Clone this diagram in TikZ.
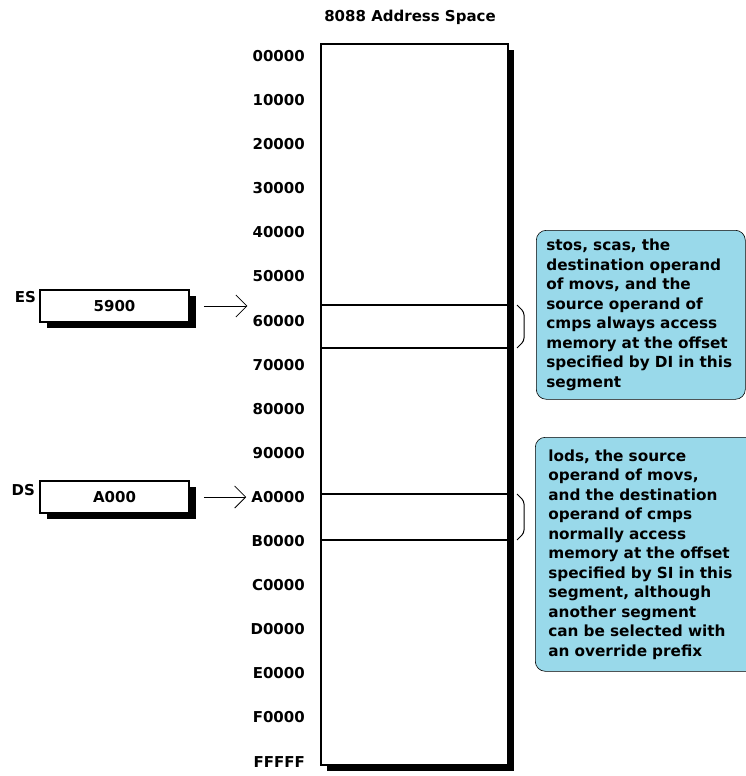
\documentclass[tikz,border=0pt]{standalone}
\usepackage{fontspec}
\setmainfont{DejaVu Sans}
\usetikzlibrary{arrows.meta,positioning,shadows}
\definecolor{notefill}{RGB}{153,217,234}

\begin{document}
\begin{tikzpicture}[x=1pt,y=-1pt,font=\fontsize{15}{19.5}\selectfont\bfseries,
  mem/.style={draw,line width=1.6pt,fill=white,minimum width=187pt,minimum height=721pt,
    drop shadow={fill=black,opacity=1,shadow xshift=6pt,shadow yshift=-6pt}},
  reg/.style={draw,line width=1.6pt,fill=white,minimum width=149pt,minimum height=32pt,
    drop shadow={fill=black,opacity=1,shadow xshift=7pt,shadow yshift=-6pt}},
  addr/.style={anchor=east,inner sep=0pt},
  rname/.style={anchor=north east,inner sep=0pt},
  note/.style={draw,line width=0.6pt,rounded corners=10pt,fill=notefill,anchor=north west,
    font=\fontsize{15.3}{19.5}\selectfont\bfseries,align=left},
  ptr/.style={-{Straight Barb[length=11pt,width=22pt]},line width=0.8pt},
  seg/.style={line width=1.6pt},
  brk/.style={line width=1pt,rounded corners=3pt}]
  \useasboundingbox (0,0) rectangle (746,776);
  \node (title) at (410,17) {8088 Address Space};
  \node[mem] (mem) at (414.5,404.5) {};
  \foreach \a [count=\i from 0] in {00000,10000,20000,30000,40000,50000,60000,70000,80000,
    90000,A0000,B0000,C0000,D0000,E0000,F0000,FFFFF}
    \node[addr] (a\i) at (305,56+44.1*\i) {\a};
  % segment registers
  \node[reg] (es) at (114.5,306) {5900};
  \node[reg] (ds) at (114.5,497) {A000};
  \node[rname] (esl) at ([xshift=-3pt,yshift=-2pt]es.north west) {ES};
  \node[rname] (dsl) at ([xshift=-4pt,yshift=-4pt]ds.north west) {DS};
  \draw[ptr] ([xshift=14pt]es.east) -- ([xshift=-5pt]a6.west |- es.east);
  \draw[ptr] ([xshift=14pt]ds.east) -- ([xshift=-5pt]a10.west |- ds.east);
  % segment bounds
  \coordinate (esA) at (517,305); \coordinate (esB) at (517,348);
  \coordinate (dsA) at (517,494); \coordinate (dsB) at (517,540);
  \draw[seg] (mem.west |- esA) -- (mem.east |- esA);
  \draw[seg] (mem.west |- esB) -- (mem.east |- esB);
  \draw[seg] (mem.west |- dsA) -- (mem.east |- dsA);
  \draw[seg] (mem.west |- dsB) -- (mem.east |- dsB);
  \draw[brk] (esA) -- ++(7,7) -- ++(0,29) -- (esB);
  \draw[brk] (dsA) -- ++(7,7) -- ++(0,32) -- (dsB);
  % notes
  \node[note,minimum height=169pt,text width=189pt,inner xsep=10pt] (esnote) at (536,230) {stos, scas, the\\destination operand\\of movs, and the\\source operand of\\cmps always access\\memory at the offset\\specified by DI in this\\segment};
  \node[note,minimum height=234pt,text width=200pt,inner xsep=13pt] (dsnote) at (535,437) {lods, the source\\operand of movs,\\and the destination\\operand of cmps\\normally access\\memory at the offset\\specified by SI in this\\segment, although\\another segment\\can be selected with\\an override prefix};
\end{tikzpicture}
\end{document}
